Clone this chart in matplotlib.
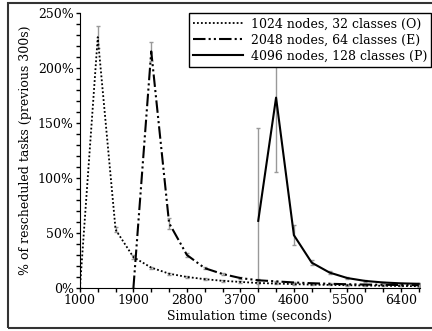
import matplotlib
matplotlib.use("Agg")
import matplotlib.pyplot as plt
from matplotlib.patches import Rectangle
from matplotlib.ticker import FixedLocator, MultipleLocator, FuncFormatter

plt.rcParams['font.family'] = 'DejaVu Serif'
plt.rcParams['font.size'] = 9

# data
time_o = [1000, 1300, 1600, 1900, 2200, 2500, 2800, 3100, 3400, 3700,
          4000, 4300, 4600, 4900, 5200, 5500, 5800, 6100, 6400, 6700]
resched_o = [0, 228, 53, 28, 18.5, 13, 10, 8, 6.5, 5.5,
             4.5, 4, 3.5, 3, 2.8, 2.5, 2.2, 2, 1.8, 1.6]
err_o = [0, 10, 2, 2, 1, 1, 1, 0.8, 0.8, 0.6,
         0.6, 0.5, 0.5, 0.5, 0.5, 0.4, 0.4, 0.4, 0.4, 0.4]

time_e = [1900, 2200, 2500, 2800, 3100, 3400, 3700, 4000, 4300, 4600,
          4900, 5200, 5500, 5800, 6100, 6400, 6700]
resched_e = [0, 215, 59, 30, 18, 12.7, 9, 7, 6, 5,
             4.3, 3.8, 3.4, 3.1, 2.9, 2.7, 2.5]
err_e = [0, 9, 5, 1.5, 1, 1, 0.8, 0.8, 0.6, 0.6,
         0.5, 0.5, 0.5, 0.5, 0.4, 0.4, 0.4]

time_p = [4000, 4300, 4600, 4900, 5200, 5500, 5800, 6100, 6400, 6700]
resched_p = [61, 173, 48, 23, 14, 9, 6.4, 5, 4.2, 3.8]
err_p = [84, 68, 9, 2, 1, 1, 0.8, 0.6, 0.6, 0.5]

labels = ['1024 nodes, 32 classes (O)',
          '2048 nodes, 64 classes (E)',
          '4096 nodes, 128 classes (P)']
xticks = [1000, 1900, 2800, 3700, 4600, 5500, 6400]

fig = plt.figure(figsize=(4.32, 3.31), dpi=100)
ax = fig.add_axes([0.185, 0.13, 0.787, 0.831])

# outer frame around the figure (right side runs off the image)
fig.patches.append(Rectangle((0.0185, 0.009), 1.1, 0.982, transform=fig.transFigure,
                             fill=False, edgecolor='#333333', linewidth=1.5))

err_kw = dict(fmt='none', ecolor='#999999', elinewidth=1, capsize=1.5, zorder=1)
ax.errorbar(time_o, resched_o, yerr=err_o, **err_kw)
ax.errorbar(time_e, resched_e, yerr=err_e, **err_kw)
ax.errorbar(time_p, resched_p, yerr=err_p, **err_kw)

ax.plot(time_o, resched_o, color='black', linewidth=1.3,
        linestyle=(0, (1, 1.2)), label=labels[0], zorder=2)
ax.plot(time_e, resched_e, color='black', linewidth=1.5,
        linestyle=(0, (6, 1.5, 1, 1.5, 1, 1.5)), label=labels[1], zorder=2)
ax.plot(time_p, resched_p, color='black', linewidth=1.5,
        linestyle='-', label=labels[2], zorder=2)

ax.set_xlim(1000, 6720)
ax.set_ylim(0, 250)
ax.xaxis.set_major_locator(FixedLocator(xticks))
ax.xaxis.set_minor_locator(FixedLocator(list(range(1000, 6701, 300))))
ax.yaxis.set_major_locator(MultipleLocator(50))
ax.yaxis.set_minor_locator(MultipleLocator(10))
ax.yaxis.set_major_formatter(FuncFormatter(lambda v, p: f'{v:.0f}%'))
ax.tick_params(which='both', direction='out', length=3, width=1, pad=1.5)

for s in ['top', 'right']:
    ax.spines[s].set_visible(False)

ax.set_xlabel('Simulation time (seconds)', labelpad=2)
ax.set_ylabel('% of rescheduled tasks (previous 300s)', labelpad=4)

leg = ax.legend(loc='upper right', bbox_to_anchor=(1.034, 1.0), fancybox=False,
                edgecolor='black', framealpha=1, borderpad=0.35,
                labelspacing=0.25, handlelength=4, handletextpad=0.6,
                borderaxespad=0)
leg.get_frame().set_linewidth(1)

fig.savefig('out.png', dpi=100)
